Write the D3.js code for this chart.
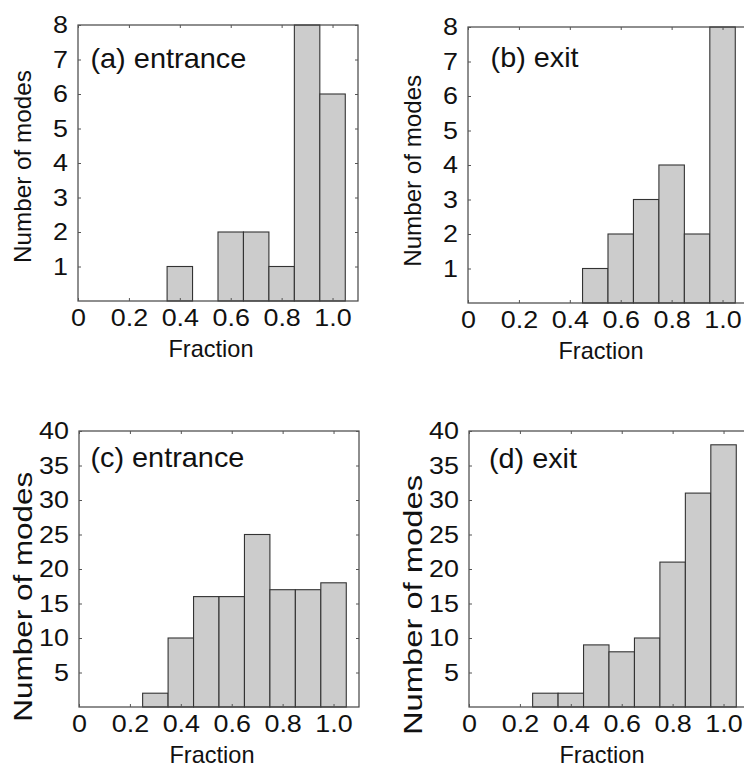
<!DOCTYPE html>
<html>
<head>
<meta charset="utf-8">
<script src="https://cdn.jsdelivr.net/npm/d3@7/dist/d3.min.js"></script>
<style>
  html, body { margin: 0; padding: 0; background: #fff; overflow: hidden; }
  svg { display: block; }
  text { font-family: "Liberation Sans", Arial, Helvetica, sans-serif; fill: #111; }
</style>
</head>
<body>
<svg id="chart" width="744" height="770"></svg>
<script>
// ---- data ----
const binCenters = [0.1, 0.2, 0.3, 0.4, 0.5, 0.6, 0.7, 0.8, 0.9, 1.0];
const binWidth = 0.1;
const countsEntranceA = [0, 0, 0, 1, 0, 2, 2, 1, 8, 6];
const countsExitB     = [0, 0, 0, 0, 1, 2, 3, 4, 2, 8];
const countsEntranceC = [0, 0, 2, 10, 16, 16, 25, 17, 17, 18];
const countsExitD     = [0, 0, 2, 2, 9, 8, 10, 21, 31, 38];
const xTickValues = [0, 0.2, 0.4, 0.6, 0.8, 1.0];
const yTicksTop = [1, 2, 3, 4, 5, 6, 7, 8];
const yTicksBottom = [5, 10, 15, 20, 25, 30, 35, 40];
const panelLabels = ["(a) entrance", "(b) exit", "(c) entrance", "(d) exit"];
const xLabel = "Fraction";
const yLabel = "Number of modes";

// ---- layout ----
const W = 280, H = 276;
const panels = [
  { counts: countsEntranceA, yMax: 8,  yTicks: yTicksTop,    label: panelLabels[0],
    left: 78,  top: 25,  lab: { dx: 12.4, dy: 43, len: 156 }, yl: { c: 166.5, len: 193, fs: 24 } },
  { counts: countsExitB,     yMax: 8,  yTicks: yTicksTop,    label: panelLabels[1],
    left: 468, top: 27,  lab: { dx: 22.6, dy: 40, len: 88 },  yl: { c: 170.8, len: 192, fs: 24 } },
  { counts: countsEntranceC, yMax: 40, yTicks: yTicksBottom, label: panelLabels[2],
    left: 79,  top: 431, lab: { dx: 11.4, dy: 36.3, len: 154 }, yl: { c: 596.7, len: 250, fs: 26 } },
  { counts: countsExitD,     yMax: 40, yTicks: yTicksBottom, label: panelLabels[3],
    left: 469, top: 431, lab: { dx: 20, dy: 36.6, len: 88 },  yl: { c: 605, len: 260, fs: 26 } }
];

const svg = d3.select("#chart");
const axisColor = "#444";
const tickFont = 24;
const tickStretch = 1.12;

panels.forEach(p => {
  const x = d3.scaleLinear().domain([0, 1.1]).range([0, W]);
  const y = d3.scaleLinear().domain([0, p.yMax]).range([H, 0]);
  const g = svg.append("g").attr("transform", `translate(${p.left},${p.top})`);

  g.append("rect").attr("x", 0).attr("y", 0).attr("width", W).attr("height", H)
    .attr("fill", "#fff").attr("stroke", "none");

  const data = binCenters.map((c, i) => ({ c, v: p.counts[i] })).filter(d => d.v > 0);
  g.selectAll("rect.bar").data(data).enter().append("rect")
    .attr("class", "bar")
    .attr("x", d => x(d.c - binWidth / 2))
    .attr("width", d => x(d.c + binWidth / 2) - x(d.c - binWidth / 2))
    .attr("y", d => y(d.v))
    .attr("height", d => H - y(d.v))
    .attr("fill", "#cccccc").attr("stroke", "#333").attr("stroke-width", 1.1);

  g.append("rect").attr("x", 0).attr("y", 0).attr("width", W).attr("height", H)
    .attr("fill", "none").attr("stroke", axisColor).attr("stroke-width", 1.2);

  const styleAxis = sel => {
    sel.select(".domain").remove();
    sel.selectAll(".tick line").attr("stroke", "#555");
    sel.selectAll("text").attr("font-size", tickFont)
      .attr("font-family", '"Liberation Sans", Arial, sans-serif').attr("fill", "#111")
      .each(function () {
        const L = this.getComputedTextLength();
        if (L > 0) {
          d3.select(this).attr("textLength", L * tickStretch).attr("lengthAdjust", "spacingAndGlyphs");
        }
      });
  };
  g.append("g").attr("transform", `translate(0,${H})`)
    .call(d3.axisBottom(x).tickValues(xTickValues).tickSizeInner(-3).tickSizeOuter(0)
      .tickPadding(8).tickFormat(d => d === 0 ? "0" : d.toFixed(1)))
    .call(styleAxis);
  g.append("g")
    .call(d3.axisTop(x).tickValues(xTickValues).tickSizeInner(-3).tickSizeOuter(0).tickFormat(""))
    .call(styleAxis);
  g.append("g")
    .call(d3.axisLeft(y).tickValues(p.yTicks).tickSizeInner(-3).tickSizeOuter(0).tickPadding(10))
    .call(styleAxis);
  g.append("g").attr("transform", `translate(${W},0)`)
    .call(d3.axisRight(y).tickValues(p.yTicks).tickSizeInner(-3).tickSizeOuter(0).tickFormat(""))
    .call(styleAxis);

  g.append("text")
    .attr("x", p.lab.dx).attr("y", p.lab.dy)
    .attr("font-size", 28)
    .attr("textLength", p.lab.len).attr("lengthAdjust", "spacingAndGlyphs")
    .text(p.label);

  g.append("text")
    .attr("x", W / 2 - 7).attr("y", H + 56)
    .attr("text-anchor", "middle").attr("font-size", 24)
    .attr("textLength", 85).attr("lengthAdjust", "spacingAndGlyphs")
    .text(xLabel);

  svg.append("text")
    .attr("transform", `translate(${p.left - 47},${p.yl.c}) rotate(-90)`)
    .attr("text-anchor", "middle").attr("font-size", p.yl.fs)
    .attr("textLength", p.yl.len).attr("lengthAdjust", "spacingAndGlyphs")
    .text(yLabel);
});
</script>
</body>
</html>
